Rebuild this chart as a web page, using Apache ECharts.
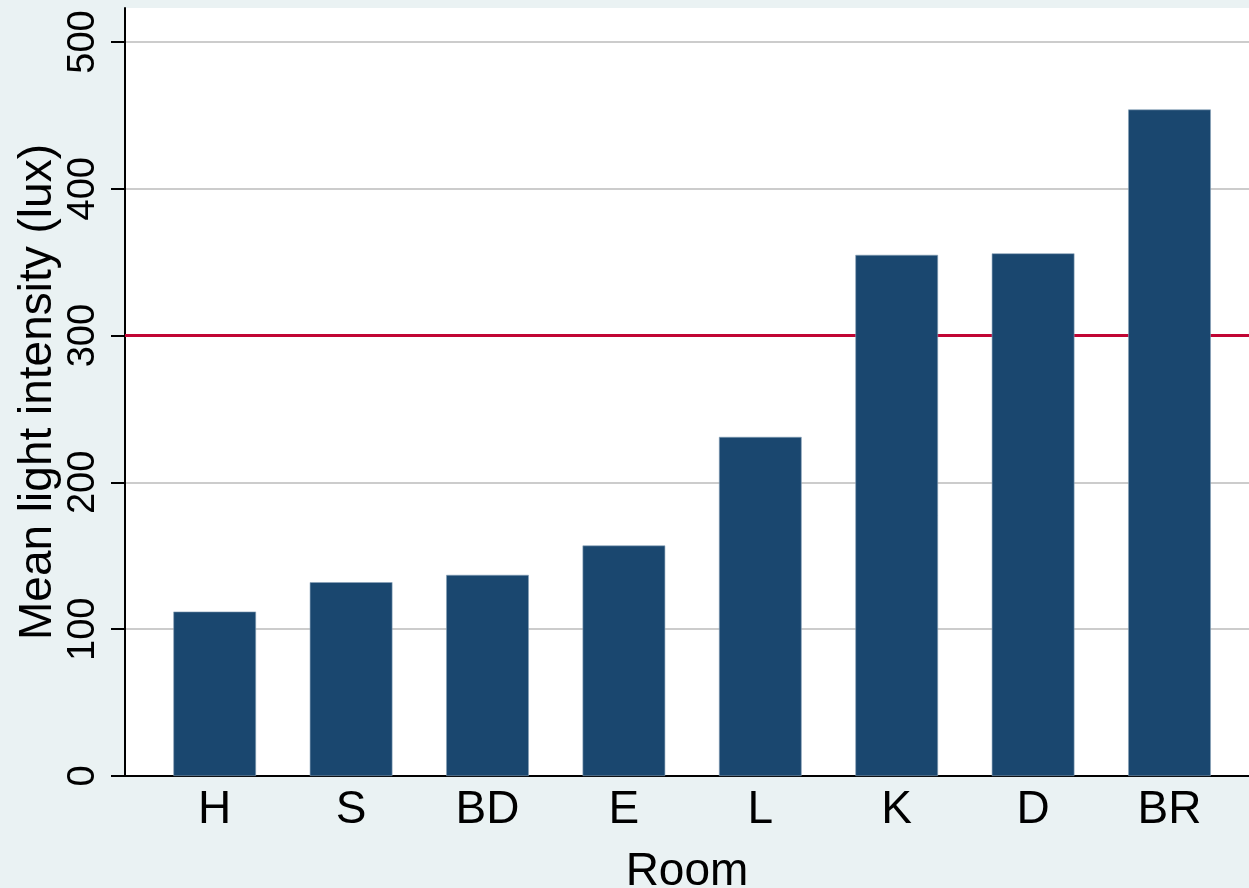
<!DOCTYPE html>
<html>
<head>
<meta charset="utf-8">
<script src="https://cdn.jsdelivr.net/npm/echarts@6/dist/echarts.min.js"></script>
<style>
html,body{margin:0;padding:0;background:#eaf2f3;}
#chart{width:1249px;height:888px;}
</style>
</head>
<body>
<div id="chart"></div>
<script>
const rooms = ['H', 'S', 'BD', 'E', 'L', 'K', 'D', 'BR'];
const meanLux = [112, 132, 137, 157, 231, 355, 356, 454];
const threshold = [300];
const yTicks = [0, 100, 200, 300, 400, 500];

const FONT = 'Liberation Sans';
const chart = echarts.init(document.getElementById('chart'));

const option = {
  backgroundColor: '#eaf2f3',
  animation: false,
  grid: [
    { left: 125, right: 0, top: 8, bottom: 112, show: true, backgroundColor: '#ffffff', borderWidth: 0, outerBoundsMode: 'none', containLabel: false },
    { left: 125, right: 0, top: 42, bottom: 112, outerBoundsMode: 'none', containLabel: false },
    { left: 146.5, right: 11.3, top: 42, bottom: 112, outerBoundsMode: 'none', containLabel: false }
  ],
  xAxis: [
    {
      type: 'value', gridIndex: 0, min: 0, max: 1,
      axisLine: { show: true, onZero: false, lineStyle: { color: '#000', width: 2 } },
      axisTick: { show: false }, axisLabel: { show: false }, splitLine: { show: false },
      name: 'Room', nameLocation: 'middle', nameGap: 73,
      nameTextStyle: { fontFamily: FONT, fontSize: 46, color: '#000' }
    },
    {
      type: 'value', gridIndex: 1, min: 0, max: 1, show: false
    },
    {
      type: 'category', gridIndex: 2, data: rooms,
      axisLine: { show: false }, axisTick: { show: false },
      axisLabel: { fontFamily: FONT, fontSize: 46, color: '#000', margin: 11, interval: 0 }
    }
  ],
  yAxis: [
    {
      type: 'value', gridIndex: 0, min: 0, max: 1,
      axisLine: { show: true, onZero: false, lineStyle: { color: '#000', width: 2 } },
      axisTick: { show: false }, axisLabel: { show: false }, splitLine: { show: false },
      name: 'Mean light intensity (lux)', nameLocation: 'middle', nameGap: 64,
      nameTextStyle: { fontFamily: FONT, fontSize: 46, color: '#000' }
    },
    {
      type: 'value', gridIndex: 1, min: yTicks[0], max: yTicks[yTicks.length - 1], interval: 100,
      axisLine: { show: false },
      axisTick: { show: true, length: 14, lineStyle: { color: '#000', width: 2 } },
      axisLabel: { rotate: 90, fontFamily: FONT, fontSize: 38, color: '#000', margin: 22 },
      splitLine: { show: true, lineStyle: { color: '#cccccc', width: 2 } }
    },
    {
      type: 'value', gridIndex: 2, min: yTicks[0], max: yTicks[yTicks.length - 1], show: false
    }
  ],
  series: [
    {
      type: 'line', xAxisIndex: 1, yAxisIndex: 1,
      data: [[0, threshold[0]], [1, threshold[0]]],
      showSymbol: false, symbol: 'none',
      lineStyle: { color: '#c10534', width: 3 }, z: 2, silent: true
    },
    {
      type: 'bar', xAxisIndex: 2, yAxisIndex: 2,
      data: meanLux, barWidth: '60.6%',
      itemStyle: { color: '#1a476f', borderColor: '#8aa3b8', borderWidth: 0.6 },
      z: 3
    }
  ]
};
chart.setOption(option);
</script>
</body>
</html>
